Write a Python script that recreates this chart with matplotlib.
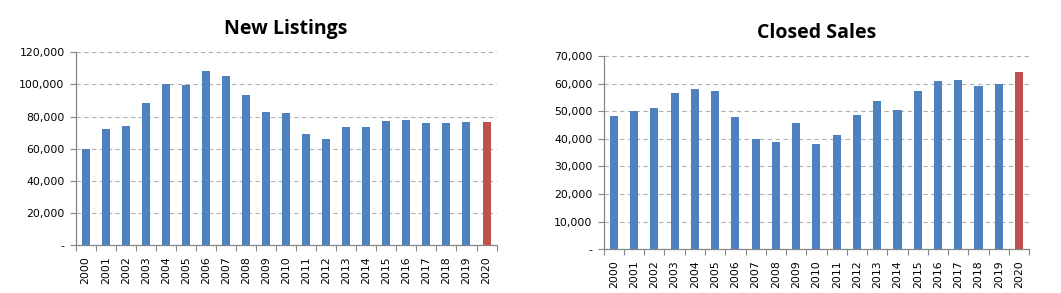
import numpy as np
import matplotlib.pyplot as plt
from matplotlib.ticker import FuncFormatter

years = [str(y) for y in range(2000, 2021)]

new_listings = [60000, 72300, 74200, 88500, 100300, 99900, 108600, 105300, 93500, 82900,
                82300, 69400, 66100, 73800, 73800, 77300, 78100, 76100, 76100, 76700, 76700]
closed_sales = [48300, 50100, 51200, 56700, 58100, 57400, 48000, 40100, 38900, 45800,
                38100, 41400, 48700, 53800, 50500, 57400, 61000, 61400, 59200, 59900, 64300]

BLUE = '#4F81BD'
RED = '#C0504D'
AXCOL = '#868686'


def fmt(v, pos):
    if v == 0:
        return '-'
    return '{:,.0f}'.format(v)


def draw(ax, vals, title, ymax, step):
    x = np.arange(len(vals))
    colors = [BLUE] * (len(vals) - 1) + [RED]
    ax.bar(x, vals, width=0.4, color=colors, zorder=3)
    ax.set_xlim(-0.5, len(vals) - 0.5)
    ax.set_ylim(0, ymax)
    ax.set_yticks(np.arange(0, ymax + 1, step))
    ax.yaxis.set_major_formatter(FuncFormatter(fmt))
    ax.grid(axis='y', color='#b0b0b0', ls=(0, (4, 3)), lw=0.8, zorder=0)

    # year labels centred on bars, ticks between categories (excel style)
    ax.set_xticks(x)
    ax.set_xticklabels(years, rotation=90, fontsize=7.8, family='DejaVu Sans')
    ax.tick_params(axis='x', which='major', length=0, pad=8)
    ax.set_xticks(np.arange(-0.5, len(vals), 1), minor=True)
    ax.tick_params(axis='x', which='minor', length=4, color=AXCOL, width=0.8)
    ax.tick_params(axis='y', length=4, color=AXCOL, width=0.8, labelsize=7.8, pad=4)

    for s in ['top', 'right']:
        ax.spines[s].set_visible(False)
    for s in ['left', 'bottom']:
        ax.spines[s].set_color(AXCOL)
        ax.spines[s].set_linewidth(0.9)

    ax.set_title(title, fontsize=14, fontweight='bold', family='Open Sans', pad=13)


fig = plt.figure(figsize=(10.61, 2.93), dpi=100)
ax0 = fig.add_axes([0.0713, 0.163, 0.3967, 0.6585])
ax1 = fig.add_axes([0.569, 0.150, 0.401, 0.658])

draw(ax0, new_listings, 'New Listings', 120000, 20000)
draw(ax1, closed_sales, 'Closed Sales', 70000, 10000)

fig.savefig('out.png', dpi=100)
